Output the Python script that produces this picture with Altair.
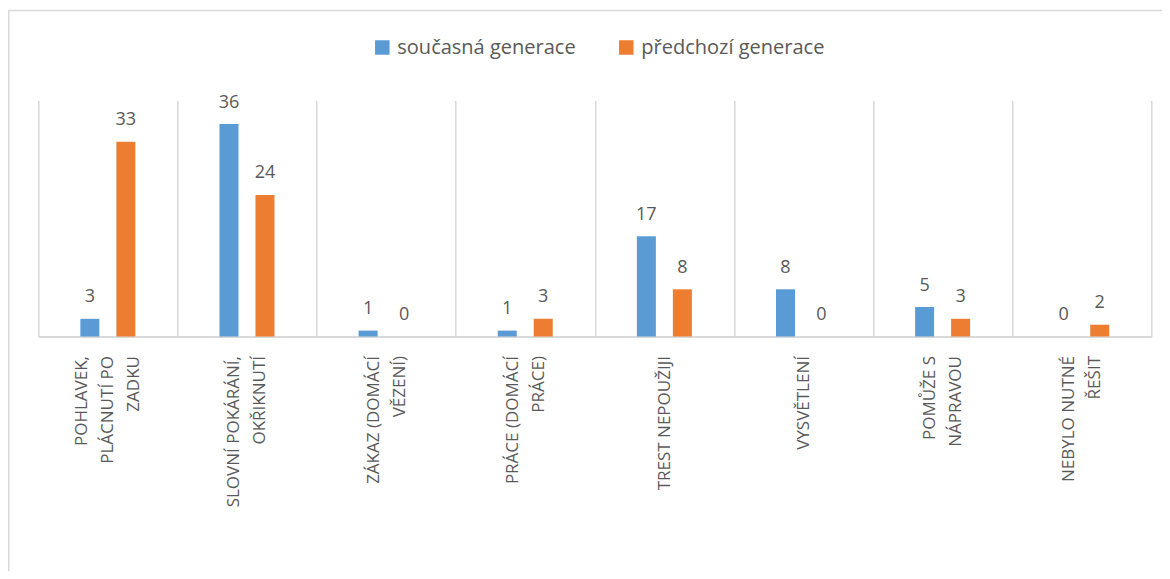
import altair as alt
import pandas as pd

categories = [
    "POHLAVEK, PLÁCNUTÍ PO ZADKU",
    "SLOVNÍ POKÁRÁNÍ, OKŘIKNUTÍ",
    "ZÁKAZ (DOMÁCÍ VĚZENÍ)",
    "PRÁCE (DOMÁCÍ PRÁCE)",
    "TREST NEPOUŽIJI",
    "VYSVĚTLENÍ",
    "POMŮŽE S NÁPRAVOU",
    "NEBYLO NUTNÉ ŘEŠIT",
]
label_lines = [
    ["POHLAVEK,", "PLÁCNUTÍ PO", "ZADKU"],
    ["SLOVNÍ POKÁRÁNÍ,", "OKŘIKNUTÍ"],
    ["ZÁKAZ (DOMÁCÍ", "VĚZENÍ)"],
    ["PRÁCE (DOMÁCÍ", "PRÁCE)"],
    ["TREST NEPOUŽIJI"],
    ["VYSVĚTLENÍ"],
    ["POMŮŽE S", "NÁPRAVOU"],
    ["NEBYLO NUTNÉ", "ŘEŠIT"],
]
series = ["současná generace", "předchozí generace"]
current_gen = [3, 36, 1, 1, 17, 8, 5, 0]
previous_gen = [33, 24, 0, 3, 8, 0, 3, 2]
colors = ["#5B9BD5", "#ED7D31"]

rows = []
for i, c in enumerate(categories):
    rows.append({"kategorie": c, "generace": series[0], "hodnota": current_gen[i]})
    rows.append({"kategorie": c, "generace": series[1], "hodnota": previous_gen[i]})
df = pd.DataFrame(rows)

def js_str(s):
    return "'" + s.replace("'", "\\'") + "'"

lookup = "{" + ", ".join(
    js_str(c) + ": [" + ", ".join(js_str(l) for l in lines) + "]"
    for c, lines in zip(categories, label_lines)
) + "}"
label_expr = lookup + "[datum.label]"

FONT = "Open Sans"
GRAY = "#595959"
LINE = "#D9D9D9"
LINE_H = 26

# shift multi-line label blocks so they are centred on their category
label_offset = {
    "condition": [
        {"test": "datum.value == " + js_str(c), "value": -(len(lines) - 1) / 2 * LINE_H}
        for c, lines in zip(categories, label_lines)
        if len(lines) > 1
    ],
    "value": 0,
}

W, H = 1113, 236

x_enc = alt.X(
    "kategorie:N",
    sort=categories,
    scale=alt.Scale(paddingInner=0, paddingOuter=0),
    axis=alt.Axis(
        title=None,
        labelAngle=270,
        labelAlign="right",
        labelBaseline="middle",
        labelExpr=label_expr,
        labelFont=FONT,
        labelFontSize=17,
        labelColor=GRAY,
        labelLineHeight=LINE_H,
        labelPadding=19,
        labelOffset=label_offset,
        labelLimit=400,
        ticks=False,
        tickBand="extent",
        grid=True,
        gridColor=LINE,
        gridWidth=1.5,
        domain=True,
        domainColor=LINE,
        domainWidth=2,
    ),
)
xoff_enc = alt.XOffset(
    "generace:N",
    sort=series,
    scale=alt.Scale(paddingInner=0, paddingOuter=0.932),
)
y_enc = alt.Y("hodnota:Q", scale=alt.Scale(domain=[0, 40], nice=False, zero=True), axis=None)

bars = alt.Chart(df).mark_bar(width=19).encode(
    x=x_enc,
    xOffset=xoff_enc,
    y=y_enc,
    color=alt.Color(
        "generace:N",
        sort=series,
        scale=alt.Scale(domain=series, range=colors),
        legend=alt.Legend(
            orient="none",
            legendX=334,
            legendY=-63,
            direction="horizontal",
            title=None,
            symbolType="square",
            symbolSize=210,
            symbolStrokeWidth=0,
            labelFont=FONT,
            labelFontSize=20,
            labelColor=GRAY,
            labelOffset=5,
            labelLimit=400,
            columnPadding=40,
        ),
    ),
)

labels = alt.Chart(df).mark_text(
    dy=-16.5, baseline="alphabetic", align="center", font=FONT, fontSize=18, color=GRAY
).encode(
    x=x_enc,
    xOffset=xoff_enc,
    y=y_enc,
    text=alt.Text("hodnota:Q"),
)

frame = alt.Chart(pd.DataFrame({"f": [0]})).mark_rect(
    filled=False, stroke=LINE, strokeWidth=1.5
).encode(
    x=alt.value(-29.5), x2=alt.value(1400), y=alt.value(-90), y2=alt.value(800)
)

chart = alt.layer(frame, bars, labels).properties(
    width=W,
    height=H,
    autosize=alt.AutoSizeParams(type="none"),
    padding={"left": 30.3, "top": 92.5, "right": 10.7, "bottom": 234.5},
).configure_view(stroke=None)

chart.save("out.html", embed_options={"renderer": "svg", "actions": False})
